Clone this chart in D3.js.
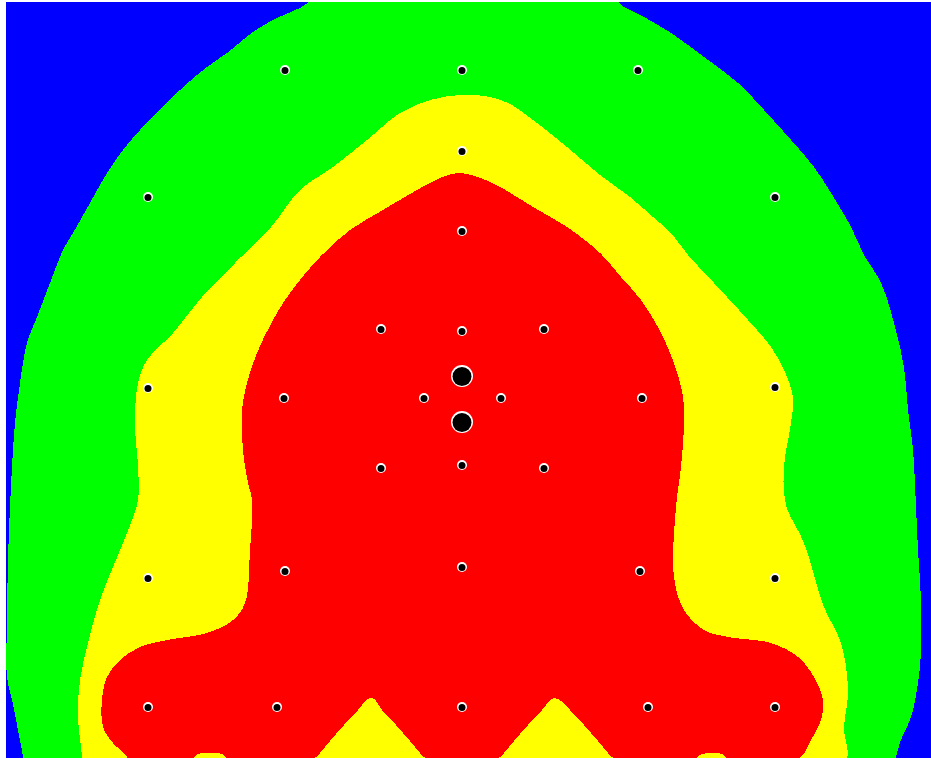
<!DOCTYPE html>
<html>
<head>
<meta charset="utf-8">
<script src="https://cdn.jsdelivr.net/npm/d3@7"></script>
<style>
  html, body { margin: 0; padding: 0; background: #fff; overflow: hidden; }
  svg { display: block; }
</style>
</head>
<body>
<svg id="map" width="931" height="758"></svg>
<script>
// map extent, in map units
var mapX = [6, 931];
var mapY = [2, 758];

// level boundaries, [x, y] in map units
var greenEdge = [[23,765],[23,758],[18,730],[12,700],[7,677],[7,620],[8,560],[10,507],[12,467],[15,423],[20,383],
  [27,343],[37,317],[50,283],[63,250],[73,233],[90,203],[107,173],[123,150],[140,130],[160,110],[180,90],
  [207,67],[227,53],[253,32],[273,20],[308,2],[308,-6],[618,-6],[618,2],[644,17],[671,33],[704,57],
  [738,83],[764,110],[791,140],[814,167],[831,193],[851,227],[864,255],[881,283],[894,323],[904,367],
  [908,410],[913,450],[916,507],[918,550],[921,600],[921,650],[918,683],[911,717],[901,740],[896,758],[896,765]];

var yellowEdge = [[82,765],[82,757],[78,717],[80,680],[88,643],[100,600],[113,567],[127,533],[138,500],
  [138,467],[135,423],[138,383],[147,360],[173,333],[202,297],[235,263],[271,227],[300,190],[333,167],
  [367,140],[400,113],[430,100],[460,95],[490,97],[510,104],[533,120],[567,147],[600,175],[630,197],
  [653,217],[671,233],[688,255],[714,283],[748,320],[771,347],[784,370],[793,397],[791,423],[784,467],
  [786,505],[804,543],[824,607],[841,643],[848,690],[844,727],[843,765]];

var redEdge = [[127,765],[127,757],[113,743],[103,727],[102,700],[107,677],[120,660],[140,647],[167,640],
  [207,633],[233,620],[245,603],[250,550],[252,500],[248,483],[243,450],[242,410],[247,383],[257,353],
  [273,320],[290,293],[320,257],[350,230],[383,210],[417,190],[440,178],[457,173],[475,176],[500,187],
  [533,207],[567,227],[600,253],[621,277],[641,300],[661,333],[674,363],[683,397],[684,423],[681,467],
  [676,507],[674,577],[684,610],[704,630],[728,637],[771,643],[798,657],[814,677],[823,700],[821,720],
  [811,740],[801,757],[790,760],[760,760],[730,760],[722,754],[712,753],[702,754],[692,760],[640,760],
  [618,760],[612,757],[598,741],[584,725],[570,710],[558,699],[552,699],[542,710],[528,725],[514,741],
  [500,757],[494,760],[430,760],[424,757],[410,741],[396,725],[382,710],[374,699],[368,699],[358,710],
  [344,725],[330,741],[316,757],[310,760],[260,760],[230,760],[222,754],[210,753],[198,754],[190,760],
  [150,760]];

// measurement points [x, y] and the two reference points
var pointsX = [285, 462, 638, 462, 148, 775, 462, 381, 462, 544, 148, 284, 424, 501, 642, 775,
  381, 462, 544, 148, 285, 462, 640, 775, 148, 277, 462, 648, 775];
var pointsY = [70, 70, 70, 151, 197, 197, 231, 329, 331, 329, 388, 398, 398, 398, 398, 387,
  468, 465, 468, 578, 571, 567, 571, 578, 707, 707, 707, 707, 707];
var refX = [462, 462];
var refY = [376, 422];

var levels = [
  {name: "green", color: "#00ff00", edge: greenEdge},
  {name: "yellow", color: "#ffff00", edge: yellowEdge},
  {name: "red", color: "#ff0000", edge: redEdge}
];

var svg = d3.select("#map");
var x = d3.scaleLinear().domain(mapX).range([6, 931]);
var y = d3.scaleLinear().domain(mapY).range([2, 758]);

svg.append("clipPath").attr("id", "clip")
  .append("rect")
  .attr("x", x(mapX[0])).attr("y", y(mapY[0]))
  .attr("width", x(mapX[1]) - x(mapX[0]))
  .attr("height", y(mapY[1]) - y(mapY[0]));

var g = svg.append("g").attr("clip-path", "url(#clip)");

// lowest level fills the whole map
g.append("rect")
  .attr("x", x(mapX[0])).attr("y", y(mapY[0]))
  .attr("width", x(mapX[1]) - x(mapX[0]))
  .attr("height", y(mapY[1]) - y(mapY[0]))
  .attr("fill", "#0000ff");

var line = d3.line()
  .x(function(d) { return x(d[0]); })
  .y(function(d) { return y(d[1]); })
  .curve(d3.curveCatmullRomClosed.alpha(0.5));

g.selectAll("path.level").data(levels)
  .enter()
  .append("path")
  .attr("class", "level")
  .attr("d", function(d) { return line(d.edge); })
  .attr("fill", function(d) { return d.color; })
  .attr("shape-rendering", "crispEdges");

var pts = pointsX.map(function(d, i) { return {x: d, y: pointsY[i], r: 3.5}; })
  .concat(refX.map(function(d, i) { return {x: d, y: refY[i], r: 9.5}; }));

var marks = g.selectAll("g.pt").data(pts)
  .enter()
  .append("g")
  .attr("class", "pt")
  .attr("transform", function(d) { return "translate(" + x(d.x) + "," + y(d.y) + ")"; });

marks.append("circle")
  .attr("r", function(d) { return d.r + 1.5; })
  .attr("fill", "#fff");
marks.append("circle")
  .attr("cy", 0.5)
  .attr("r", function(d) { return d.r; })
  .attr("fill", "#000");
</script>
</body>
</html>
